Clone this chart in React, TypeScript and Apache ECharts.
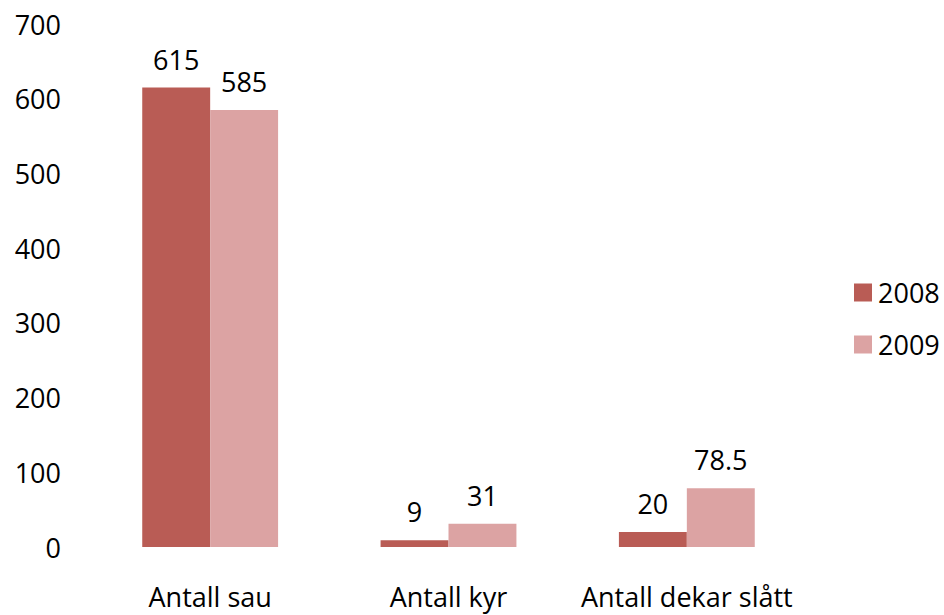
import React, { useEffect, useRef } from "react";
import * as echarts from "echarts";

const categories = ["Antall sau", "Antall kyr", "Antall dekar slått"];
const values2008 = [615, 9, 20];
const values2009 = [585, 31, 78.5];
const seriesNames = ["2008", "2009"];

const FONT = "'Open Sans', 'Noto Sans', sans-serif";

export default function App() {
  const ref = useRef<HTMLDivElement>(null);
  useEffect(() => {
    if (!ref.current) return;
    const chart = echarts.init(ref.current, undefined, { renderer: "svg" });
    const label = {
      show: true,
      position: "top",
      distance: 15,
      color: "#000",
      fontSize: 27,
      fontFamily: FONT,
    };
    chart.setOption({
      animation: false,
      backgroundColor: "#fff",
      grid: { left: 91, right: 138, top: 24, bottom: 68, containLabel: false },
      legend: {
        orient: "vertical",
        left: 849,
        top: 274,
        itemWidth: 18,
        itemHeight: 18,
        itemGap: 25,
        icon: "rect",
        textStyle: { fontSize: 27, fontFamily: FONT, color: "#000", padding: [0, 0, 0, 1] },
        data: seriesNames,
      },
      xAxis: {
        type: "category",
        data: categories,
        axisLine: { show: false },
        axisTick: { show: false },
        axisLabel: { interval: 0, fontSize: 27, fontFamily: FONT, color: "#000", margin: 36 },
      },
      yAxis: {
        type: "value",
        min: 0,
        max: 700,
        interval: 100,
        splitLine: { show: false },
        axisLine: { show: false },
        axisTick: { show: false },
        axisLabel: { fontSize: 27, fontFamily: FONT, color: "#000", margin: 30 },
      },
      series: [
        {
          name: seriesNames[0],
          type: "bar",
          data: values2008,
          barWidth: "28.5%",
          barGap: "0%",
          itemStyle: { color: "#B95C55" },
          label,
        },
        {
          name: seriesNames[1],
          type: "bar",
          data: values2009,
          barWidth: "28.5%",
          barGap: "0%",
          itemStyle: { color: "#DCA3A3" },
          label,
        },
      ],
    });
    return () => chart.dispose();
  }, []);
  return <div ref={ref} style={{ width: 944, height: 615, position: "absolute", left: 0, top: 0 }} />;
}
